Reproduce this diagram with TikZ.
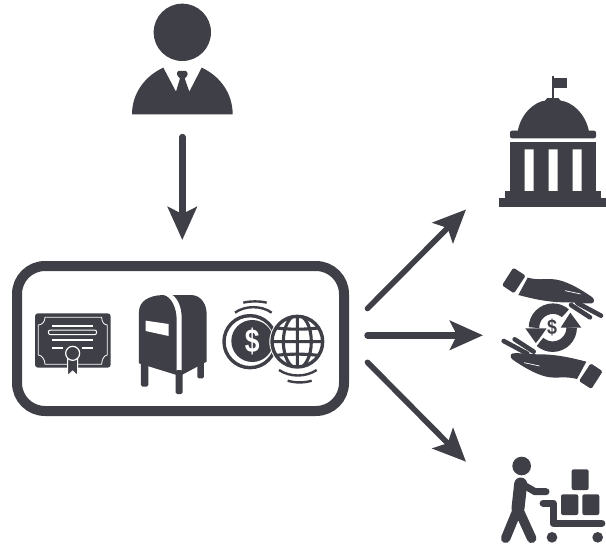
\documentclass[tikz,border=0pt]{standalone}
\usepackage{fontspec}
\setmainfont{Liberation Sans}
\usetikzlibrary{arrows.meta}
\definecolor{ink}{HTML}{3E3F47}
\tikzset{
  flow/.style={draw=ink,line width=6.4pt,line cap=round,-{Stealth[length=33pt,width=29pt,inset=7pt]}},
  zoomed/.style={scale=1/3},
  finger/.style={draw=ink,line width=4.6pt,line cap=round},
  cutline/.style={draw=white,line width=1.3pt},
}
\begin{document}
\begin{tikzpicture}[x=1pt,y=-1pt]
\useasboundingbox (0,0) rectangle (606,546);
% person
\begin{scope}[shift={(120,0)},zoomed]
  \fill[ink] (187,97) circle (86);
  \fill[ink] (36,343) .. controls (36,280) and (75,228) .. (130,203) -- (168,275) -- (180,235)
    .. controls (170,228) and (168,218) .. (175,213) -- (198,213) .. controls (206,218) and (204,228) .. (194,235)
    -- (208,275) -- (245,203) .. controls (300,228) and (338,280) .. (338,343) -- cycle;
\end{scope}
% frame
\node[draw=ink,line width=10pt,rounded corners=28pt,minimum width=327pt,minimum height=145pt,inner sep=0pt] (frame) at (180.5,338.5) {};
% certificate
\begin{scope}[shift={(30,305)},zoomed]
  \fill[ink,rounded corners=3pt] (15,25) rectangle (242,188);
  \draw[white,line width=.8pt] (45,37) -- (215,37) .. controls (215,50) and (222,60) .. (232,60) -- (232,150)
    .. controls (222,150) and (215,165) .. (215,178) -- (45,178) .. controls (45,165) and (36,150) .. (25,150)
    -- (25,60) .. controls (36,60) and (45,50) .. (45,37) -- cycle;
  \draw[white,line width=1.8pt] (67,62) -- (190,62) (67,105) -- (190,105) (67,130) -- (100,130) (155,130) -- (190,130);
  \draw[white,line width=1pt,rounded corners=2.2pt] (55,75) rectangle (200,89);
  \fill[ink] (128,145) circle (28);
  \draw[white,fill=ink,line width=.9pt] (113,160) -- (113,212) -- (128,198) -- (143,212) -- (143,160) -- cycle;
  \draw[white,fill=ink,line width=1.2pt] (128,145) circle (21);
\end{scope}
% mailbox
\begin{scope}[shift={(0,250)},zoomed]
  \fill[ink,rounded corners=1.5pt] (423,330) rectangle (445,410) (527,360) rectangle (548,432) (592,330) rectangle (612,385);
  \fill[ink] (417,340) -- (417,185) .. controls (417,155) and (445,136) .. (490,135)
    .. controls (515,140) and (530,175) .. (530,210) -- (530,375) -- cycle;
  \fill[ink] (518,135) -- (572,135) .. controls (605,135) and (620,165) .. (620,192) -- (620,335) -- (545,375)
    -- (545,205) .. controls (545,172) and (535,148) .. (518,135) -- cycle;
  \fill[white] (437,212) -- (506,222) -- (506,258) -- (437,243) -- cycle;
\end{scope}
% coin and globe
\begin{scope}[shift={(215,290)},zoomed]
  \draw[ink,line width=3.4pt] (105,155) circle (78);
  \fill[ink] (112,153) circle (63);
  \draw[ink,line width=2.4pt] (85,38) .. controls (105,33) and (135,33) .. (155,38)
    (60,68) .. controls (90,46) and (140,46) .. (170,68)
    (192,240) .. controls (225,262) and (272,262) .. (305,240)
    (218,272) .. controls (240,279) and (268,279) .. (290,272);
  \fill[white] (247,155) circle (84);
  \begin{scope}
    \clip (247,155) circle (77);
    \draw[ink,line width=3.1pt] (247,60) -- (247,250) (160,155) -- (335,155)
      (247,155) ellipse (42 and 80)
      (165,110) .. controls (200,120) and (294,120) .. (329,110)
      (165,200) .. controls (200,190) and (294,190) .. (329,200);
  \end{scope}
  \draw[ink,line width=3.4pt] (247,155) circle (76);
\end{scope}
\node[text=white,inner sep=0pt,font=\bfseries\fontsize{33}{33}\selectfont] (coinsign) at (252.3,341.5) {\scalebox{.8}[1]{\$}};
% bank
\begin{scope}[shift={(490,60)},zoomed]
  \fill[ink] (186,48) rectangle (193,122);
  \fill[ink] (193,55) rectangle (230,83);
  \fill[ink] (83,215) .. controls (92,160) and (135,125) .. (165,122) -- (172,114) -- (205,114) -- (212,122)
     .. controls (245,125) and (287,160) .. (297,215) -- cycle;
  \fill[ink,rounded corners=2pt] (60,212) rectangle (318,235);
  \fill[ink] (60,245) rectangle (318,395);
  \fill[white] (104,268) rectangle (131,393) (176,268) rectangle (203,393) (248,268) rectangle (275,393);
  \fill[ink] (45,393) rectangle (333,416);
  \fill[ink] (28,415) rectangle (348,440);
\end{scope}
% hands
\begin{scope}[shift={(490,260)},zoomed]
  \draw[ink,line width=10.5pt] (132,203) arc (-180:-48:57);
  \draw[ink,line width=10.5pt] (245,203) arc (0:132:57);
  \fill[ink] (106,205) -- (170,205) -- (138,250) -- cycle;
  \fill[ink] (212,203) -- (274,203) -- (241,158) -- cycle;
  \draw[cutline] (125,265) -- (170,220) (205,185) -- (250,140);
  \foreach \ang in {0,180}{
  \begin{scope}[rotate around={\ang:(187,205)}]
    \fill[ink,rounded corners=1.5pt] (70,23) -- (107,47) -- (72,100) -- (36,76) -- cycle;
    \fill[ink] (113,53) .. controls (150,63) and (175,53) .. (205,60) .. controls (240,68) and (280,93) .. (307,112)
      .. controls (314,118) and (314,128) .. (305,130) .. controls (285,132) and (255,127) .. (225,127)
      .. controls (170,127) and (120,114) .. (85,105) -- cycle;
    \draw[white,line width=.7pt] (225,92) -- (272,102);
    \draw[finger] (262,129) -- (333,167);
    \draw[finger] (243,135) -- (300,172);
  \end{scope}}
\end{scope}
\node[text=ink,inner sep=0pt,font=\bfseries\fontsize{21}{21}\selectfont] (swapsign) at (552,327.7) {\scalebox{.85}[1]{\$}};
% trolley
\begin{scope}[shift={(490,440)},zoomed]
  \fill[ink] (95,78) circle (28);
  \draw[ink,line width=13pt,line cap=round,line join=round] (92,132) -- (84,205);
  \draw[ink,line width=9.5pt,line cap=round,line join=round] (47,295) -- (84,205) -- (125,295);
  \draw[ink,line width=7pt,line cap=round,line join=round] (92,130) -- (135,155) -- (168,155);
  \draw[ink,line width=7.5pt,line cap=round,line join=round] (160,190) -- (190,190) -- (190,250) -- (335,250);
  \fill[ink] (186,292) circle (16) (323,292) circle (16);
  \fill[ink,rounded corners=2pt] (245,88) rectangle (296,150) (213,163) rectangle (265,225) (277,163) rectangle (328,225);
\end{scope}
% connectors
\coordinate (downstart) at (182.3,137);
\coordinate (downend) at (182.3,240);
\coordinate (upstart) at (367.5,308.5);
\coordinate (upend) at (466,209.5);
\coordinate (midstart) at (367.5,335.3);
\coordinate (midend) at (483,335.3);
\coordinate (lowstart) at (367.5,362.3);
\coordinate (lowend) at (466,461.7);
\draw[flow] (downstart) -- (downend);
\draw[flow,line width=5.6pt] (upstart) -- (upend);
\draw[flow] (midstart) -- (midend);
\draw[flow,line width=5.6pt] (lowstart) -- (lowend);
\end{tikzpicture}
\end{document}
